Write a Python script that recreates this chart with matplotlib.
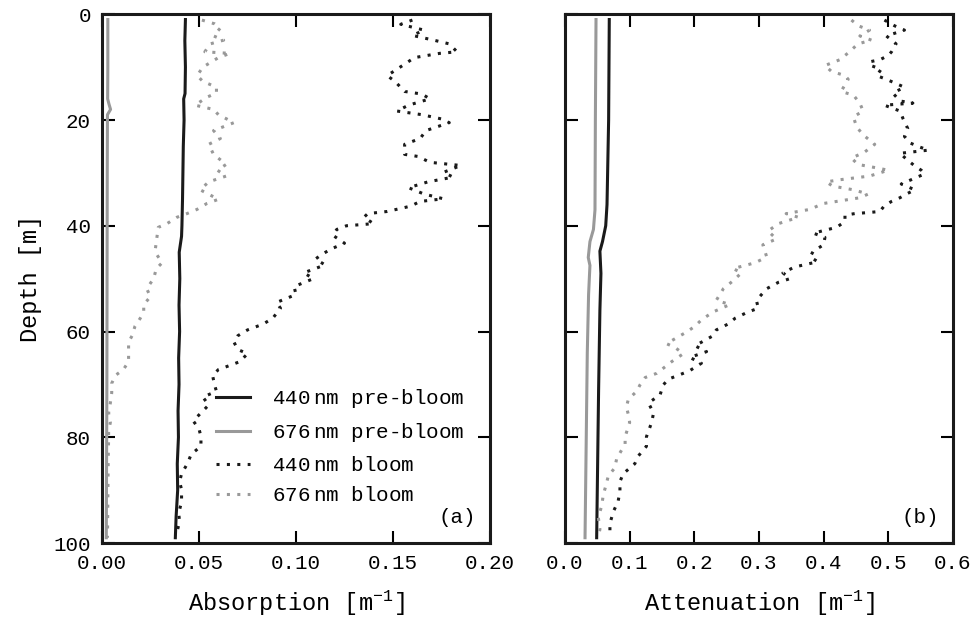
import matplotlib
matplotlib.use("Agg")
import matplotlib.pyplot as plt

plt.rcParams['font.family'] = ['Liberation Mono', 'DejaVu Sans Mono']
plt.rcParams['mathtext.fontset'] = 'custom'
plt.rcParams['mathtext.rm'] = 'Liberation Mono'
plt.rcParams['mathtext.it'] = 'Liberation Mono:italic'
plt.rcParams['mathtext.bf'] = 'Liberation Mono:bold'

# ---- datos ----
# absorcion, pre-bloom
z_abs_pre = [1, 5, 10, 15, 16, 20, 25, 30, 35, 40, 42, 45, 50, 55, 60, 65, 70, 75, 80, 85, 90, 95, 99]
a440_pre = [0.0430, 0.0427, 0.0430, 0.0428, 0.0421, 0.0423, 0.0419, 0.0417, 0.0415, 0.0412, 0.0410, 0.0398,
            0.0401, 0.0397, 0.0400, 0.0395, 0.0397, 0.0392, 0.0394, 0.0388, 0.0390, 0.0382, 0.0378]
z_a676_pre = [1, 10, 16, 17, 18, 19, 30, 50, 70, 90, 99]
a676_pre = [0.0030, 0.0030, 0.0029, 0.0036, 0.0044, 0.0028, 0.0027, 0.0026, 0.0025, 0.0023, 0.0022]

# absorcion, bloom 440 nm
z_a440_bl = [1.1, 1.9, 3.0, 4.0, 4.9, 5.6, 7.1, 7.4, 8.2, 9.2, 10.4, 11.6, 12.7, 14.6, 15.1, 16.0, 17.2,
             18.3, 19.0, 19.8, 20.5, 22.0, 23.5, 24.6, 26.5, 26.9, 28.0, 28.6, 29.9, 30.8, 31.7, 32.8,
             34.0, 34.9, 35.4, 36.3, 37.3, 37.7, 38.4, 39.6, 40.0, 40.7, 41.8, 43.3, 44.4, 45.5, 46.3,
             47.4, 48.9, 50.0, 51.5, 53.0, 54.5, 55.6, 57.5, 58.6, 59.7, 60.8, 62.0, 63.4, 64.2, 65.7,
             66.4, 67.2, 68.3, 70.1, 71.3, 72.4, 73.9, 75.4, 76.9, 78.4, 79.9, 81.7, 83.2, 85.0, 86.9,
             88.4, 89.9, 92.2, 94.4, 95.9, 97.4, 98.5]
a440_bl = [0.160, 0.154, 0.166, 0.160, 0.171, 0.179, 0.183, 0.174, 0.161, 0.157, 0.152, 0.147, 0.151, 0.156,
           0.165, 0.169, 0.158, 0.152, 0.165, 0.175, 0.179, 0.167, 0.164, 0.156, 0.156, 0.163, 0.169,
           0.185, 0.176, 0.181, 0.168, 0.158, 0.166, 0.176, 0.164, 0.159, 0.147, 0.137, 0.135, 0.140,
           0.126, 0.121, 0.119, 0.125, 0.118, 0.113, 0.110, 0.115, 0.104, 0.109, 0.099, 0.100, 0.090,
           0.092, 0.088, 0.083, 0.075, 0.070, 0.068, 0.070, 0.075, 0.071, 0.066, 0.060, 0.057, 0.058,
           0.059, 0.052, 0.055, 0.051, 0.047, 0.050, 0.051, 0.051, 0.046, 0.044, 0.041, 0.040, 0.041,
           0.041, 0.0395, 0.040, 0.039, 0.039]

# absorcion, bloom 676 nm
z_a676_bl = [1.1, 1.8, 2.6, 4.1, 4.9, 5.6, 7.1, 7.4, 8.2, 10.0, 11.6, 12.7, 13.8, 14.9, 15.7, 17.2, 18.0,
             19.0, 20.5, 22.0, 23.5, 24.6, 26.5, 28.4, 29.5, 30.6, 31.7, 33.2, 35.0, 35.8, 36.9, 37.7,
             38.4, 39.6, 40.3, 42.2, 44.4, 45.5, 47.0, 48.1, 50.0, 51.9, 53.4, 54.9, 56.3, 57.5, 59.0,
             60.8, 62.0, 63.8, 65.7, 67.2, 68.3, 69.8, 71.6, 73.5, 75.4, 77.2, 78.7, 80.2, 84.0, 88.0,
             92.0, 96.0, 99.0]
a676_bl = [0.0515, 0.058, 0.061, 0.0575, 0.0627, 0.0558, 0.053, 0.066, 0.060, 0.052, 0.049, 0.052, 0.059,
           0.059, 0.054, 0.048, 0.0575, 0.060, 0.068, 0.0575, 0.061, 0.055, 0.0575, 0.064, 0.0595,
           0.064, 0.055, 0.0506, 0.060, 0.054, 0.049, 0.0438, 0.0386, 0.0335, 0.029, 0.0283, 0.0275,
           0.0283, 0.031, 0.028, 0.0266, 0.023, 0.025, 0.0215, 0.0215, 0.0197, 0.017, 0.0155, 0.0137,
           0.0137, 0.0137, 0.011, 0.0069, 0.005, 0.005, 0.0043, 0.0034, 0.0043, 0.0034, 0.0034, 0.0032,
           0.0031, 0.0030, 0.0029, 0.0028]

# atenuacion, pre-bloom
z_c440_pre = [1, 20, 36, 40, 43, 44.8, 49, 56, 71, 99]
c440_pre = [0.0685, 0.0675, 0.065, 0.063, 0.058, 0.054, 0.0556, 0.054, 0.052, 0.049]
z_c676_pre = [1, 20, 37, 40.7, 43, 46, 47.5, 53, 64, 99]
c676_pre = [0.048, 0.047, 0.0464, 0.044, 0.0386, 0.036, 0.0386, 0.0365, 0.0345, 0.031]

# atenuacion, bloom 440 nm
z_c440_bl = [1.1, 2.2, 3.0, 4.1, 4.9, 5.6, 7.1, 7.8, 8.6, 9.0, 9.7, 10.4, 11.6, 12.3, 13.0, 13.8, 14.9,
             16.4, 16.8, 17.2, 18.3, 19.8, 21.6, 23.1, 24.3, 25.0, 25.7, 26.3, 27.6, 28.7, 29.5, 30.2,
             31.0, 32.1, 33.2, 34.0, 34.7, 35.4, 36.2, 37.3, 37.5, 37.7, 38.0, 39.2, 40.3, 41.4, 42.2,
             43.6, 44.8, 45.9, 46.8, 47.8, 48.9, 50.0, 50.7, 51.9, 54.1, 55.6, 56.3, 57.5, 58.6, 59.7,
             60.8, 62.7, 63.8, 64.9, 66.0, 67.4, 68.3, 69.0, 70.1, 72.0, 73.5, 75.4, 77.2, 79.9, 81.7,
             83.6, 85.0, 86.9, 88.4, 90.3, 92.2, 94.0, 96.3, 98.5]
c440_bl = [0.494, 0.510, 0.525, 0.497, 0.505, 0.512, 0.505, 0.500, 0.487, 0.471, 0.473, 0.489, 0.482,
           0.497, 0.510, 0.525, 0.507, 0.518, 0.538, 0.494, 0.518, 0.523, 0.530, 0.525, 0.533, 0.546,
           0.562, 0.518, 0.530, 0.541, 0.551, 0.556, 0.541, 0.520, 0.541, 0.528, 0.518, 0.505, 0.494,
           0.487, 0.469, 0.448, 0.433, 0.433, 0.420, 0.384, 0.402, 0.400, 0.384, 0.379, 0.391, 0.355,
           0.337, 0.348, 0.330, 0.312, 0.296, 0.299, 0.283, 0.263, 0.252, 0.234, 0.229, 0.201, 0.219,
           0.193, 0.211, 0.193, 0.175, 0.160, 0.152, 0.147, 0.129, 0.137, 0.134, 0.126, 0.126, 0.113,
           0.108, 0.090, 0.085, 0.085, 0.082, 0.075, 0.0695, 0.0695]

# atenuacion, bloom 676 nm
z_c676_bl = [1.1, 2.2, 3.0, 4.1, 4.9, 5.6, 7.1, 8.6, 9.7, 10.8, 11.6, 12.3, 14.6, 15.3, 16.8, 18.3, 19.4,
             21.3, 22.8, 24.6, 26.1, 27.2, 28.4, 29.1, 29.5, 30.6, 31.3, 31.7, 32.5, 33.2, 34.0, 34.7,
             35.4, 35.8, 36.9, 37.7, 38.4, 39.6, 41.0, 42.5, 43.6, 45.9, 47.0, 48.1, 48.9, 50.4, 51.9,
             54.1, 54.9, 56.3, 57.8, 59.0, 60.1, 60.8, 62.3, 63.0, 64.2, 65.7, 67.9, 68.7, 70.1, 71.3,
             72.8, 74.3, 75.7, 77.2, 79.9, 81.3, 84.0, 85.8, 87.3, 88.8, 91.0, 92.9, 95.1, 97.4, 98.9]
c676_bl = [0.443, 0.454, 0.471, 0.456, 0.474, 0.453, 0.440, 0.425, 0.402, 0.412, 0.433, 0.438, 0.427,
           0.446, 0.456, 0.461, 0.446, 0.451, 0.461, 0.479, 0.463, 0.443, 0.453, 0.484, 0.500, 0.471,
           0.425, 0.404, 0.414, 0.446, 0.469, 0.456, 0.420, 0.399, 0.379, 0.342, 0.361, 0.330, 0.314,
           0.327, 0.306, 0.312, 0.294, 0.260, 0.273, 0.260, 0.245, 0.234, 0.255, 0.229, 0.211, 0.201,
           0.188, 0.178, 0.157, 0.170, 0.183, 0.165, 0.142, 0.124, 0.116, 0.111, 0.098, 0.095, 0.098,
           0.100, 0.093, 0.093, 0.080, 0.077, 0.067, 0.064, 0.059, 0.057, 0.0515, 0.054, 0.0515]

labels = ['440$\\;$nm pre-bloom', '676$\\;$nm pre-bloom', '440$\\;$nm bloom', '676$\\;$nm bloom']
abs_ticks = [0.00, 0.05, 0.10, 0.15, 0.20]
att_ticks = [0.0, 0.1, 0.2, 0.3, 0.4, 0.5, 0.6]
depth_ticks = [0, 20, 40, 60, 80, 100]

negro = '#1a1a1a'
gris = '#999999'
punteado = (0, (1, 2.4))

fig = plt.figure(figsize=(9.79, 6.17), dpi=100)
ax1 = fig.add_axes([0.1042, 0.1199, 0.3963, 0.857])
ax2 = fig.add_axes([0.5771, 0.1199, 0.3963, 0.857])

ax1.plot(a440_pre, z_abs_pre, color=negro, lw=2.2, label=labels[0])
ax1.plot(a676_pre, z_a676_pre, color=gris, lw=2.2, label=labels[1])
ax1.plot(a440_bl, z_a440_bl, color=negro, lw=2.2, ls=punteado, dash_capstyle='butt', label=labels[2])
ax1.plot(a676_bl, z_a676_bl, color=gris, lw=2.2, ls=punteado, dash_capstyle='butt', label=labels[3])

ax2.plot(c440_pre, z_c440_pre, color=negro, lw=2.2)
ax2.plot(c676_pre, z_c676_pre, color=gris, lw=2.2)
ax2.plot(c440_bl, z_c440_bl, color=negro, lw=2.2, ls=punteado, dash_capstyle='butt')
ax2.plot(c676_bl, z_c676_bl, color=gris, lw=2.2, ls=punteado, dash_capstyle='butt')

for ax in (ax1, ax2):
    ax.set_ylim(100, 0)
    ax.set_yticks(depth_ticks)
    ax.tick_params(direction='in', length=9, width=1.5, top=True, right=True,
                   labelsize=15, pad=8)
    for s in ax.spines.values():
        s.set_linewidth(2.2)
        s.set_color(negro)

ax1.set_xlim(0, 0.2)
ax1.set_xticks(abs_ticks)
ax1.set_xticklabels(['%.2f' % t for t in abs_ticks])
ax2.set_xlim(0, 0.6)
ax2.set_xticks(att_ticks)
ax2.set_xticklabels(['%.1f' % t for t in att_ticks])
ax2.tick_params(labelleft=False)

ax1.set_ylabel('Depth [m]', fontsize=17, labelpad=8)
ax1.set_xlabel('Absorption [m$^{-1}$]', fontsize=17, labelpad=11)
ax2.set_xlabel('Attenuation [m$^{-1}$]', fontsize=17, labelpad=11)

ax1.text(0.965, 0.048, '(a)', transform=ax1.transAxes, ha='right', va='center', fontsize=15)
ax2.text(0.965, 0.048, '(b)', transform=ax2.transAxes, ha='right', va='center', fontsize=15)

ax1.legend(loc='upper left', bbox_to_anchor=(0.295, 0.295), frameon=False, fontsize=15,
           handlelength=1.6, handletextpad=1.05, labelspacing=0.55, borderpad=0, borderaxespad=0)

plt.savefig('out.png', dpi=100)
plt.close()
